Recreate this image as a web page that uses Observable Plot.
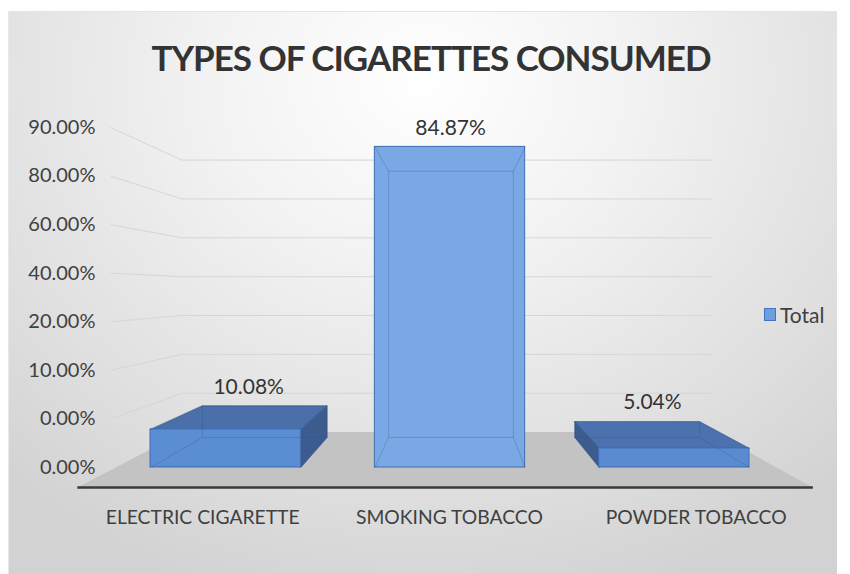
<!DOCTYPE html>
<html>
<head>
<meta charset="utf-8">
<script src="https://cdn.jsdelivr.net/npm/d3@7"></script>
<script src="https://cdn.jsdelivr.net/npm/@observablehq/plot@0.6"></script>
<style>
  html, body { margin: 0; padding: 0; background: #ffffff; }
  #chart { position: relative; width: 850px; height: 574px; overflow: hidden; }
  #bg { position: absolute; left: 8px; top: 11px; width: 828px; height: 570px;
        background: radial-gradient(ellipse 75% 95% at 50% 12%, #ffffff 0%, #f2f2f2 35%, #dfdfdf 75%, #d2d2d2 100%);
        border-top: 1px solid #e4e4e4; border-left: 1px solid #e8e8e8; }
  #title { position: absolute; left: 6px; width: 850px; top: 40px; text-align: center;
           font-family: Lato, "Open Sans", sans-serif; font-weight: bold; font-size: 35px;
           line-height: 35px; letter-spacing: -1px; color: #333333; }
  #plot { position: absolute; left: 0; top: 100px; }
  #legend { position: absolute; left: 764px; top: 302px; display: flex; align-items: center;
            font-family: Lato, sans-serif; font-size: 21px; color: #404040; }
  #legend .sw { width: 10px; height: 11px; background: #6d9fe0; border: 1px solid #4472c4; margin-right: 4px; }
</style>
</head>
<body>
<div id="chart">
  <div id="bg"></div>
  <div id="title"></div>
  <div id="plot"></div>
  <div id="legend"><div class="sw"></div><span id="legendText"></span></div>
</div>
<script>
// ---------------- data ----------------
const chartTitle = "TYPES OF CIGARETTES CONSUMED";
const seriesName = "Total";
const categories = ["ELECTRIC CIGARETTE", "SMOKING TOBACCO", "POWDER TOBACCO"];
const values = [10.08, 84.87, 5.04];
const valueLabels = ["10.08%", "84.87%", "5.04%"];
const yTickLabels = ["0.00%", "0.00%", "10.00%", "20.00%", "40.00%", "60.00%", "80.00%", "90.00%"];

// ---------------- styles ----------------
const frontColors = ["#5b8dd3", "#7aa8e4", "#5a8bd1"];
const topColors = ["#4a6fa9", "#4a6fa9", "#4b72ae"];
const sideColor = "#3c5c8f";
const frontStroke = "#3f6db5";

document.getElementById("title").textContent = chartTitle;
document.getElementById("legendText").textContent = seriesName;

// perspective (in data units; scales are linear so this equals pixel perspective)
const VPX = 1.525, VPY = 46.85;
const proj = (x, y, k) => [VPX + k * (x - VPX), VPY + k * (y - VPY)];
const HW = 0.335;   // half bar width (x units)
const KB = 0.83;    // bar depth
const KW = 0.80;    // back wall depth
const KF = 1.113;   // floor front
const WALL_L = 0.0, WALL_R = 2.956;

const tickStep = 90 / (yTickLabels.length - 1);
const tickVals = yTickLabels.map((_, i) => i * tickStep);

const bars = categories.map((c, i) => ({i, cat: c, value: values[i], label: valueLabels[i], cx: i + 0.5}));

// floor polygon
const floor = [proj(WALL_L + 0.01, 0, KF), proj(WALL_R, 0, KF), proj(WALL_R, 0, KW), proj(WALL_L + 0.01, 0, KW)]
  .map(p => ({x: p[0], y: p[1]}));

// gridlines
const backGrid = [], sideGrid = [];
tickVals.forEach((t, j) => {
  if (j === 0) return;
  const a = proj(WALL_L, t, KW), b = proj(WALL_R, t, KW);
  backGrid.push({x1: a[0], y1: a[1], x2: b[0], y2: b[1]});
  sideGrid.push({x1: WALL_L - 0.013, y1: t, x2: a[0], y2: a[1]});
});
const fl = proj(WALL_L + 0.01, 0, KF), fr = proj(WALL_R, 0, KF);
const baseline = [{x1: fl[0], y1: fl[1], x2: fr[0], y2: fr[1]}];

// bar 3D faces and edges
const faces = [], edges = [];
bars.forEach(b => {
  const x0 = b.cx - HW, x1 = b.cx + HW, v = b.value;
  const ftl = [x0, v], ftr = [x1, v], fbl = [x0, 0], fbr = [x1, 0];
  const P = p => proj(p[0], p[1], KB);
  const btl = P(ftl), btr = P(ftr), bbl = P(fbl), bbr = P(fbr);
  const add = (id, pts, fill) => pts.forEach(p => faces.push({id, x: p[0], y: p[1], fill}));
  if (v < VPY) add("top" + b.i, [ftl, ftr, btr, btl], topColors[b.i]);
  if (x1 < VPX) add("right" + b.i, [ftr, fbr, bbr, btr], sideColor);
  if (x0 > VPX) add("left" + b.i, [ftl, fbl, bbl, btl], sideColor);
  const seg = (p, q) => edges.push({x1: p[0], y1: p[1], x2: q[0], y2: q[1]});
  seg(btl, btr); seg(btr, bbr); seg(bbr, bbl); seg(bbl, btl);
  seg(ftl, btl); seg(ftr, btr); seg(fbl, bbl); seg(fbr, bbr);
});

const labelX = d => VPX + 0.9 * (d.cx - VPX);
const labelY = d => Math.max(d.value, VPY + KB * (d.value - VPY));

const plot = Plot.plot({
  width: 850,
  height: 474,
  marginLeft: 113,
  marginRight: 64,
  marginTop: 27,
  marginBottom: 107,
  x: {domain: [0, 3], axis: null, label: null},
  y: {domain: [0, 90], label: null},
  color: {type: "identity"},
  style: {background: "transparent", fontFamily: "Lato, 'Open Sans', sans-serif", color: "#404040", overflow: "visible"},
  marks: [
    Plot.line(floor, {x: "x", y: "y", fill: "#c3c3c3", stroke: "none", curve: "linear-closed"}),
    Plot.link(sideGrid, {x1: "x1", y1: "y1", x2: "x2", y2: "y2", stroke: "#d6d6d6", strokeWidth: 1}),
    Plot.link(backGrid, {x1: "x1", y1: "y1", x2: "x2", y2: "y2", stroke: "#d6d6d6", strokeWidth: 1}),
    Plot.link(baseline, {x1: "x1", y1: "y1", x2: "x2", y2: "y2", stroke: "#3a3a3a", strokeWidth: 2.5}),
    Plot.axisY(tickVals, {
      tickSize: 0, tickPadding: 18, label: null,
      tickFormat: d => yTickLabels[Math.round(d / tickStep)],
      fontSize: 20, fill: "#404040"
    }),
    Plot.line(faces, {x: "x", y: "y", z: "id", fill: "fill", stroke: "#34568a", strokeWidth: 0.8, strokeOpacity: 0.6, curve: "linear-closed"}),
    Plot.rect(bars, {x1: d => d.cx - HW, x2: d => d.cx + HW, y1: () => 0, y2: "value",
      fill: d => frontColors[d.i], stroke: frontStroke, strokeWidth: 1}),
    Plot.link(edges, {x1: "x1", y1: "y1", x2: "x2", y2: "y2", stroke: "#2c4f88", strokeWidth: 0.8, strokeOpacity: 0.35}),
    Plot.text(bars, {x: labelX, y: labelY, dy: -19, text: "label", fontSize: 21, fill: "#333333"}),
    Plot.text(bars, {x: d => VPX + 1.1 * (d.cx - VPX), y: () => 0, dy: 50, text: "cat", fontSize: 19.3, fill: "#404040"})
  ]
});
document.getElementById("plot").appendChild(plot);
</script>
</body>
</html>
